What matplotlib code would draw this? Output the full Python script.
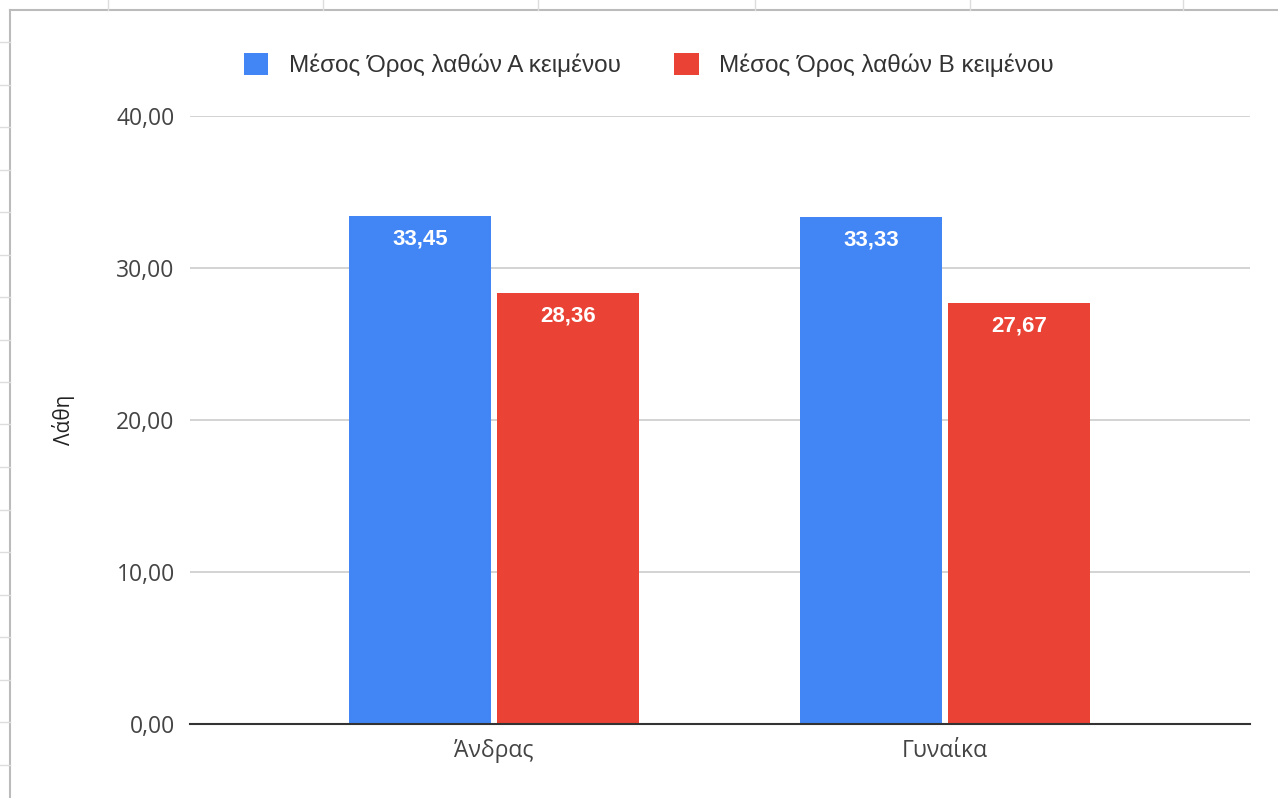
import matplotlib.pyplot as plt
from matplotlib.lines import Line2D
import numpy as np

plt.rcParams['font.family'] = ['Open Sans', 'DejaVu Sans']

categories = ["Άνδρας", "Γυναίκα"]
series_names = ["Μέσος Όρος λαθών A κειμένου", "Μέσος Όρος λαθών B κειμένου"]
errors_a = [33.45, 33.33]
errors_b = [28.36, 27.67]
colors = ["#4285F4", "#EA4335"]
yticks = [0, 10, 20, 30, 40]

W, H = 1278, 798
fig = plt.figure(figsize=(W / 100, H / 100), dpi=100)
ax = fig.add_axes([190 / W, (H - 724) / H, 1060 / W, 608 / H])

x = np.arange(len(categories))
width = 0.315
gap = 0.006
for i, (vals, col, name) in enumerate(zip([errors_a, errors_b], colors, series_names)):
    offs = (-1 if i == 0 else 1) * (width / 2 + gap)
    bars = ax.bar(x + offs, vals, width, color=col, label=name, zorder=3)
    for b, v in zip(bars, vals):
        ax.annotate(f"{v:.2f}".replace(".", ","),
                    (b.get_x() + b.get_width() / 2, v),
                    xytext=(0, -9), textcoords="offset points",
                    ha="center", va="top", color="white",
                    fontsize=16, fontweight="bold", family="Liberation Sans",
                    zorder=4)

ax.set_xlim(-0.674, 1.676)
ax.set_ylim(0, 40)
ax.set_yticks(yticks)
ax.set_yticklabels([f"{t:.2f}".replace(".", ",") for t in yticks])
ax.set_xticks(x)
ax.set_xticklabels(categories)
ax.tick_params(axis="both", length=0, labelsize=16.5, colors="#444444")
ax.tick_params(axis="y", pad=11)
ax.tick_params(axis="x", pad=11)
ax.grid(axis="y", color="#cccccc", linewidth=1.2, zorder=0)
for s in ["top", "right", "left"]:
    ax.spines[s].set_visible(False)
ax.spines["bottom"].set_color("#333333")
ax.spines["bottom"].set_linewidth(1.5)
ax.spines["bottom"].set_zorder(5)
ax.set_ylabel("Λάθη", fontsize=15, color="#222222", labelpad=30)

leg = fig.legend(loc="center", bbox_to_anchor=(649 / W, 1 - 65 / H), ncol=2,
                 frameon=False, prop={"family": "Liberation Sans", "size": 17.5},
                 handlelength=1.0, handleheight=1.0,
                 columnspacing=2.2, handletextpad=0.85)
for t in leg.get_texts():
    t.set_color("#333333")

# spreadsheet frame around the chart
border = "#bbbbbb"
fig.add_artist(Line2D([10 / W, 10 / W], [0, 1 - 10 / H], color=border, lw=1.5))
fig.add_artist(Line2D([10 / W, 1], [1 - 10 / H, 1 - 10 / H], color=border, lw=1.5))
for px in [108, 323, 538, 755, 970, 1183]:
    fig.add_artist(Line2D([px / W, px / W], [1 - 10 / H, 1], color="#dddddd", lw=1))
for py in np.arange(42, 798, 42.5):
    fig.add_artist(Line2D([0, 10 / W], [1 - py / H, 1 - py / H], color="#dddddd", lw=1))

fig.savefig("out.png", dpi=100, facecolor="white")
